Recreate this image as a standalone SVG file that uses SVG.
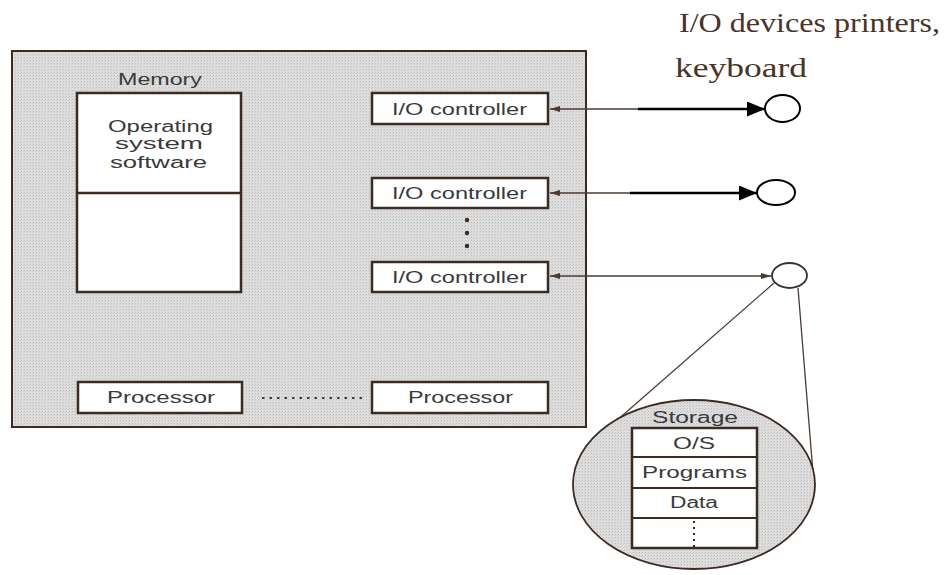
<svg xmlns="http://www.w3.org/2000/svg" width="946" height="575" viewBox="0 0 946 575">
  <defs>
    <pattern id="halftone" width="3" height="3" patternUnits="userSpaceOnUse">
      <rect width="3" height="3" fill="#dedede"/>
      <rect x="0" y="0" width="1" height="1" fill="#bcbcbc"/>
      <rect x="2" y="1" width="1" height="1" fill="#cacaca"/>
    </pattern>
    <marker id="thinHead" viewBox="0 0 10 6" refX="10" refY="3" markerWidth="16" markerHeight="6" markerUnits="userSpaceOnUse" orient="auto-start-reverse">
      <path d="M0,0 L10,3 L0,6 z" fill="#4a3a30"/>
    </marker>
    <marker id="boldHead" viewBox="0 0 18 15" refX="18" refY="7.5" markerWidth="18" markerHeight="15" markerUnits="userSpaceOnUse" orient="auto">
      <path d="M0,0 L18,7.5 L0,15 z" fill="#000"/>
    </marker>
  </defs>
  <style>
    .box { fill: #fff; stroke: #3b2b22; stroke-width: 2.5; }
    .area { fill: url(#halftone); stroke: #3b2b22; stroke-width: 2; }
    .sans { font-family: "Liberation Sans", Arial, sans-serif; fill: #3a3a3a; font-size: 16px; }
    .serif { font-family: "Liberation Serif", "Times New Roman", serif; fill: #4a3426; font-size: 27px; }
    .thin { stroke: #4a3a30; stroke-width: 1.3; fill: none; }
    .bold { stroke: #000; stroke-width: 2.5; fill: none; }
    .dev { fill: #fff; stroke: #000; stroke-width: 2; }
  </style>
  <rect width="946" height="575" fill="#fff"/>

  <g id="system-area">
    <rect class="area" x="12" y="51" width="574" height="376"/>
  </g>

  <g id="memory">
    <text class="sans" x="118" y="85" textLength="84" lengthAdjust="spacingAndGlyphs">Memory</text>
    <rect class="box" x="77" y="93" width="164" height="199"/>
    <line x1="77" y1="193" x2="241" y2="193" stroke="#3b2b22" stroke-width="2.5"/>
    <text class="sans" x="108" y="132" textLength="105" lengthAdjust="spacingAndGlyphs" style="font-size:16px">Operating</text>
    <text class="sans" x="115" y="149" textLength="88" lengthAdjust="spacingAndGlyphs" style="font-size:16px">system</text>
    <text class="sans" x="110" y="168" textLength="97" lengthAdjust="spacingAndGlyphs" style="font-size:16px">software</text>
  </g>

  <g id="io-controller-1">
    <rect class="box" x="372" y="93" width="176" height="31"/>
    <text class="sans" x="392" y="115" textLength="135" lengthAdjust="spacingAndGlyphs">I/O controller</text>
  </g>
  <g id="io-controller-2">
    <rect class="box" x="372" y="178" width="176" height="30"/>
    <text class="sans" x="392" y="199" textLength="135" lengthAdjust="spacingAndGlyphs">I/O controller</text>
  </g>
  <g id="io-ellipsis">
    <circle cx="467" cy="220" r="2.2" fill="#3b2b22"/>
    <circle cx="467" cy="233" r="2.2" fill="#3b2b22"/>
    <circle cx="467" cy="246" r="2.2" fill="#3b2b22"/>
  </g>
  <g id="io-controller-3">
    <rect class="box" x="372" y="262" width="176" height="30"/>
    <text class="sans" x="392" y="283" textLength="135" lengthAdjust="spacingAndGlyphs">I/O controller</text>
  </g>

  <g id="processor-1">
    <rect class="box" x="78" y="382" width="164" height="31"/>
    <text class="sans" x="107" y="403" textLength="108" lengthAdjust="spacingAndGlyphs">Processor</text>
  </g>
  <g id="processor-2">
    <rect class="box" x="372" y="382" width="176" height="31"/>
    <text class="sans" x="408" y="403" textLength="105" lengthAdjust="spacingAndGlyphs">Processor</text>
  </g>

  <g id="device-label">
    <text class="serif" x="679" y="32" textLength="261" lengthAdjust="spacingAndGlyphs">I/O devices printers,</text>
    <text class="serif" x="675" y="77" textLength="132" lengthAdjust="spacingAndGlyphs">keyboard</text>
  </g>

  <g id="device-1">
    <ellipse class="dev" cx="782.5" cy="108.5" rx="17.5" ry="13.5"/>
  </g>
  <g id="device-2">
    <ellipse class="dev" cx="776" cy="192.5" rx="19" ry="12.5"/>
  </g>
  <g id="device-3">
    <ellipse cx="789.5" cy="275.5" rx="17.5" ry="12.5" fill="#fff" stroke="#333" stroke-width="1.8"/>
  </g>

  <g id="connectors">
    <line class="thin" x1="550" y1="109" x2="645" y2="109" marker-start="url(#thinHead)"/>
    <line class="bold" x1="638" y1="109" x2="765" y2="109" marker-end="url(#boldHead)"/>
    <line class="thin" x1="550" y1="193" x2="635" y2="193" marker-start="url(#thinHead)"/>
    <line class="bold" x1="630" y1="193" x2="757" y2="193" marker-end="url(#boldHead)"/>
    <line class="thin" x1="550" y1="276" x2="771" y2="276" marker-start="url(#thinHead)" marker-end="url(#thinHead)"/>
    <line x1="262" y1="398" x2="366" y2="398" stroke="#4a3a30" stroke-width="2" stroke-dasharray="2.5,5"/>
    <line class="thin" x1="774" y1="283" x2="615" y2="422"/>
    <line class="thin" x1="798" y1="288" x2="813" y2="473"/>
  </g>

  <g id="storage">
    <ellipse cx="694" cy="484.5" rx="121" ry="84.5" fill="url(#halftone)" stroke="#3b2b22" stroke-width="1.8"/>
    <text class="sans" x="652" y="423" textLength="86" lengthAdjust="spacingAndGlyphs">Storage</text>
    <rect class="box" x="632" y="428" width="125" height="120"/>
    <line x1="632" y1="457" x2="757" y2="457" stroke="#3b2b22" stroke-width="2.2"/>
    <line x1="632" y1="488" x2="757" y2="488" stroke="#3b2b22" stroke-width="2.2"/>
    <line x1="632" y1="518" x2="757" y2="518" stroke="#3b2b22" stroke-width="2.2"/>
    <text class="sans" x="673" y="449" textLength="42" lengthAdjust="spacingAndGlyphs">O/S</text>
    <text class="sans" x="642" y="478" textLength="105" lengthAdjust="spacingAndGlyphs">Programs</text>
    <text class="sans" x="670" y="508" textLength="48" lengthAdjust="spacingAndGlyphs">Data</text>
    <line x1="694" y1="521" x2="694" y2="548" stroke="#3b2b22" stroke-width="2" stroke-dasharray="2,4"/>
  </g>
</svg>
